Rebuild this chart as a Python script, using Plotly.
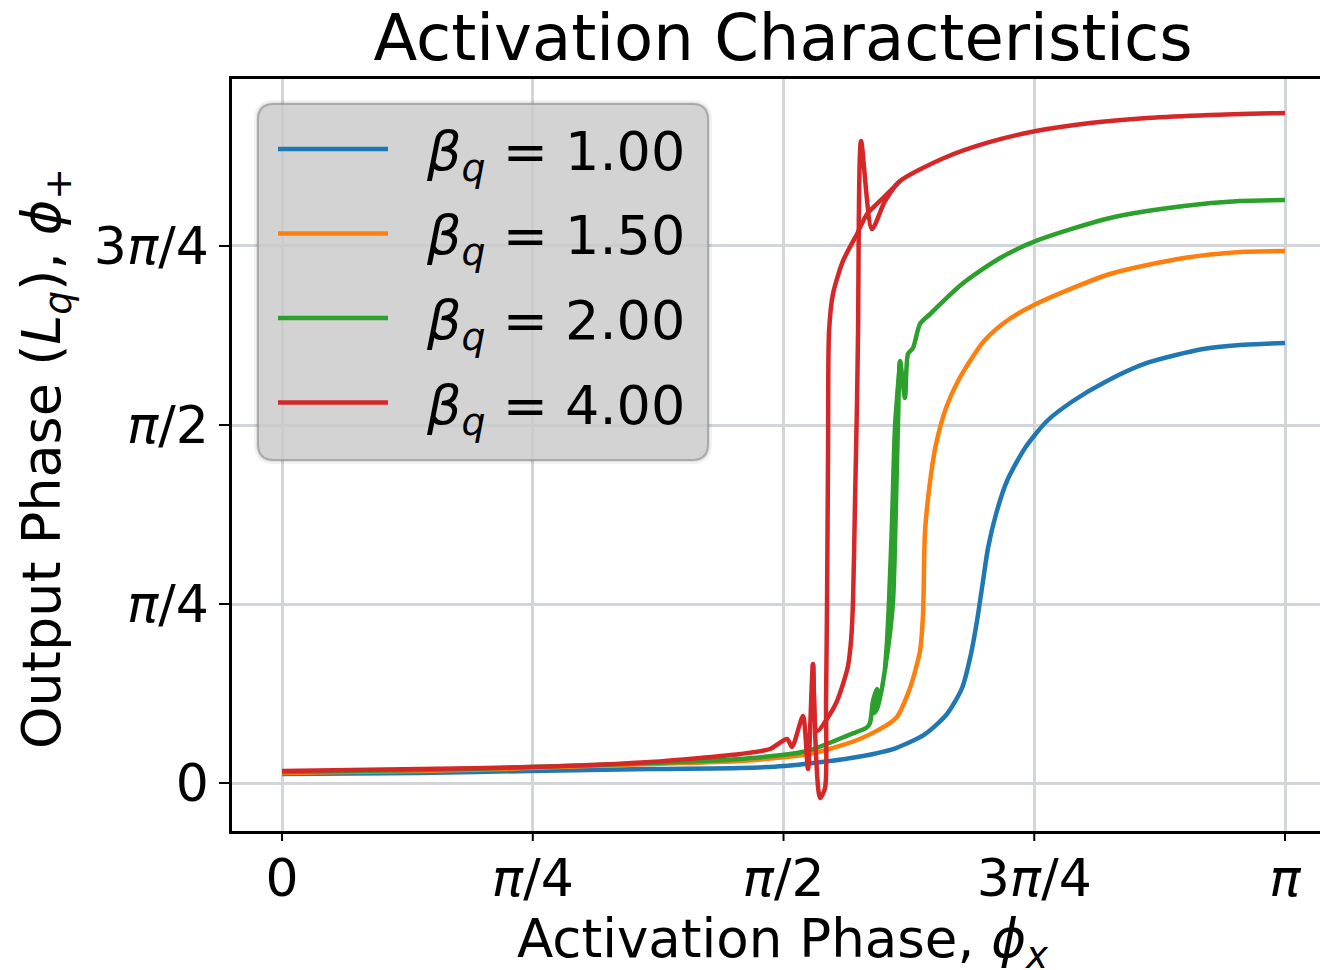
import plotly.graph_objects as go

# Coupling strengths and line colours
betas = [1.00, 1.50, 2.00, 4.00]
colors = ["#1f77b4", "#ff7f0e", "#2ca02c", "#d62728"]

# Activation phase (x) and output phase (y), both in units of pi.
# A None entry separates the down-sweep branch of a hysteresis loop.
phi_x_b100 = [0.0, 0.1376, 0.2473, 0.3669, 0.4566, 0.5005, 0.5673, 0.6122, 0.6411, 0.6630,
              0.6780, 0.6869, 0.6929, 0.6989, 0.7039, 0.7119, 0.7228, 0.7408, 0.7627, 0.7886,
              0.8225, 0.8624, 0.9182, 0.9551, 1.0]
phi_p_b100 = [0.0126, 0.0140, 0.0168, 0.0196, 0.0209, 0.0237, 0.0349, 0.0489, 0.0684, 0.0964,
              0.1327, 0.1802, 0.2263, 0.2821, 0.3282, 0.3757, 0.4218, 0.4679, 0.5056, 0.5335,
              0.5615, 0.5866, 0.6061, 0.6117, 0.6145]

phi_x_b150 = [0.0, 0.1376, 0.2473, 0.3669, 0.4566, 0.5304, 0.5783, 0.6122, 0.6261, 0.6361,
              0.6391, 0.6411, 0.6471, 0.6521, 0.6620, 0.6740, 0.6999, 0.7238, 0.7517, 0.8255,
              0.8993, 0.9551, 1.0]
phi_p_b150 = [0.0140, 0.0168, 0.0209, 0.0265, 0.0307, 0.0419, 0.0628, 0.0908, 0.1327, 0.1844,
              0.2360, 0.3520, 0.4316, 0.4735, 0.5237, 0.5615, 0.6173, 0.6466, 0.6690, 0.7109,
              0.7332, 0.7416, 0.7430]

phi_x_b200 = [0.0, 0.1376, 0.2473, 0.3669, 0.4566, 0.5234, 0.5673, 0.5823, 0.5862, 0.5892,
              0.5932, 0.5942, 0.5902, 0.5932, 0.5982, 0.6012, 0.6052, 0.6092, 0.6122, 0.6142,
              0.6162, 0.6211, 0.6241, 0.6291, 0.6361, 0.6461, 0.6780, 0.7159, 0.7517, 0.8255,
              0.8993, 0.9551, 1.0,
              None,
              0.6162, 0.6112, 0.6082, 0.6052, 0.6032, 0.6012]
phi_p_b200 = [0.0154, 0.0182, 0.0223, 0.0279, 0.0335, 0.0447, 0.0684, 0.0768, 0.0838, 0.1145,
              0.1313, 0.1201, 0.0978, 0.1034, 0.1327, 0.1592, 0.1983, 0.2542, 0.3939, 0.5056,
              0.5894, 0.5377, 0.5992, 0.6075, 0.6411, 0.6550, 0.6969, 0.7332, 0.7570, 0.7891,
              0.8059, 0.8128, 0.8142,
              None,
              0.5894, 0.4986, 0.3659, 0.2542, 0.1983, 0.1592]

phi_x_b400 = [0.0, 0.1376, 0.2473, 0.3669, 0.4566, 0.4865, 0.5035, 0.5085, 0.5194, 0.5244,
              0.5294, 0.5334, 0.5464, 0.5533, 0.5593, 0.5643, 0.5673, 0.5693, 0.5713, 0.5733,
              0.5743, 0.5773, 0.5882, 0.6012, 0.6162, 0.6600, 0.7059, 0.7517, 0.8056, 0.8624,
              0.9252, 1.0,
              None,
              0.6162, 0.5992, 0.5833, 0.5733, 0.5593, 0.5493, 0.5454, 0.5444, 0.5434, 0.5424,
              0.5414, 0.5364, 0.5294]
phi_p_b400 = [0.0168, 0.0196, 0.0223, 0.0293, 0.0405, 0.0475, 0.0615, 0.0503, 0.0936, 0.0196,
              0.1662, 0.0726, 0.0964, 0.1145, 0.1383, 0.1634, 0.1983, 0.2542, 0.3939, 0.5335,
              0.6313, 0.8966, 0.7737, 0.8128, 0.8408, 0.8729, 0.8953, 0.9106, 0.9218, 0.9288,
              0.9330, 0.9358,
              None,
              0.8408, 0.8170, 0.7947, 0.7668, 0.7291, 0.6830, 0.6313, 0.4637, 0.2542, 0.1145,
              -0.0070, -0.0209, 0.1662]

tick_vals_x = [0.0, 0.25, 0.5, 0.75, 1.0]
tick_text_x = ["0", "<i>π</i>/4", "<i>π</i>/2", "3<i>π</i>/4", "<i>π</i>"]
tick_vals_y = [0.0, 0.25, 0.5, 0.75]
tick_text_y = ["0", "<i>π</i>/4", "<i>π</i>/2", "3<i>π</i>/4"]

x_title = "Activation Phase, <i>ϕ</i><sub><i>x</i></sub>"
y_title = "Output Phase (<i>L</i><sub><i>q</i></sub>), <i>ϕ</i><sub>+</sub>"
main_title = "Activation Characteristics"

series_x = [phi_x_b100, phi_x_b150, phi_x_b200, phi_x_b400]
series_y = [phi_p_b100, phi_p_b150, phi_p_b200, phi_p_b400]

W, H = 1320, 970
L, T, R, B = 232, 79, 0, 139
FONT = "DejaVu Sans"

fig = go.Figure()
for xs, ys, c, b in zip(series_x, series_y, colors, betas):
    fig.add_trace(go.Scatter(
        x=xs, y=ys, mode="lines", connectgaps=False,
        line=dict(color=c, width=4.5, shape="spline", smoothing=0.7),
        name=f"β_q = {b:.2f}", showlegend=False,
    ))

# pixel -> paper helpers for the hand-drawn legend and titles
pw, ph = W - L - R, H - T - B


def px_x(px):
    return (px - L) / pw


def px_y(py):
    return (H - B - py) / ph


def rounded_rect(x0, y0, x1, y1, r):
    pts = []
    pts.append(f"M {px_x(x0 + r)},{px_y(y0)}")
    pts.append(f"L {px_x(x1 - r)},{px_y(y0)}")
    pts.append(f"Q {px_x(x1)},{px_y(y0)} {px_x(x1)},{px_y(y0 + r)}")
    pts.append(f"L {px_x(x1)},{px_y(y1 - r)}")
    pts.append(f"Q {px_x(x1)},{px_y(y1)} {px_x(x1 - r)},{px_y(y1)}")
    pts.append(f"L {px_x(x0 + r)},{px_y(y1)}")
    pts.append(f"Q {px_x(x0)},{px_y(y1)} {px_x(x0)},{px_y(y1 - r)}")
    pts.append(f"L {px_x(x0)},{px_y(y0 + r)}")
    pts.append(f"Q {px_x(x0)},{px_y(y0)} {px_x(x0 + r)},{px_y(y0)}")
    pts.append("Z")
    return " ".join(pts)


box = (258, 104, 708, 460)
shapes = []
# soft shadow rings
for grow, alpha in [(4, 0.05), (2, 0.07)]:
    shapes.append(dict(
        type="path", xref="paper", yref="paper", layer="above",
        path=rounded_rect(box[0] - grow, box[1] - grow, box[2] + grow, box[3] + grow, 16 + grow),
        fillcolor=f"rgba(0,0,0,{alpha})", line=dict(width=0),
    ))
shapes.append(dict(
    type="path", xref="paper", yref="paper", layer="above",
    path=rounded_rect(*box, 16),
    fillcolor="rgba(207,207,207,0.82)", line=dict(color="rgba(150,150,150,0.7)", width=2),
))

annotations = []
row0, row_step = 149, 84.5
for i, (b, c) in enumerate(zip(betas, colors)):
    yy = row0 + i * row_step
    shapes.append(dict(
        type="line", xref="paper", yref="paper", layer="above",
        x0=px_x(278), x1=px_x(388), y0=px_y(yy), y1=px_y(yy),
        line=dict(color=c, width=4.5),
    ))
    annotations.append(dict(
        xref="paper", yref="paper", x=px_x(424), y=px_y(yy + 6),
        xanchor="left", yanchor="middle", showarrow=False,
        text=f"<i>β</i><sub><i>q</i></sub> = {b:.2f}",
        font=dict(family=FONT, size=54, color="black"),
    ))

# x tick marks drawn as shapes so the labels can sit closer to the axis
for v in tick_vals_x:
    shapes.append(dict(
        type="line", xref="x", yref="paper", layer="above",
        x0=v, x1=v, y0=0, y1=-10 / ph,
        line=dict(color="black", width=2),
    ))

# axis titles
annotations.append(dict(
    xref="paper", yref="paper", x=px_x(783), y=px_y(942),
    xanchor="center", yanchor="middle", showarrow=False, text=x_title,
    font=dict(family=FONT, size=53, color="black"),
))
annotations.append(dict(
    xref="paper", yref="paper", x=px_x(45), y=px_y(459), textangle=-90,
    xanchor="center", yanchor="middle", showarrow=False, text=y_title,
    font=dict(family=FONT, size=54, color="black"),
))

axis_common = dict(
    showgrid=True, gridcolor="#d2d5da", gridwidth=2.5,
    zeroline=False, showline=True, linecolor="black", linewidth=2.5,
    tickfont=dict(family=FONT, size=52, color="black"),
)

fig.update_layout(
    width=W, height=H, autosize=False,
    margin=dict(l=L, r=R, t=T, b=B, pad=0),
    paper_bgcolor="white", plot_bgcolor="white",
    title=dict(text=main_title, x=783 / W, xanchor="center",
               y=1 - 38 / H, yanchor="middle", yref="container",
               font=dict(family=FONT, size=64, color="black")),
    xaxis=dict(range=[-0.0499, 1.0349], tickvals=tick_vals_x, ticktext=tick_text_x,
               mirror=True, ticks="", **axis_common),
    yaxis=dict(range=[-0.067, 0.9832], tickvals=tick_vals_y, ticktext=tick_text_y,
               ticks="outside", ticklen=10, tickwidth=2, tickcolor="black",
               **axis_common),
    shapes=shapes, annotations=annotations, showlegend=False,
)

fig.write_html("out.html")
